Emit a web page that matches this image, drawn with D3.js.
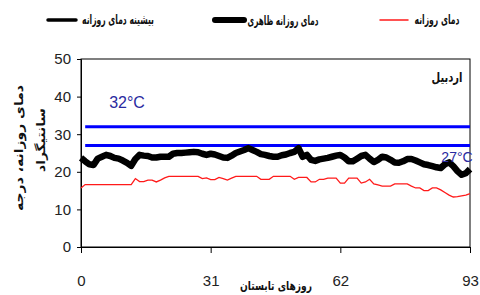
<!DOCTYPE html>
<html>
<head>
<meta charset="utf-8">
<script src="https://cdn.jsdelivr.net/npm/d3@7"></script>
<style>
html,body{margin:0;padding:0;background:#fff;}
svg{display:block;}
.num{font-family:"Liberation Sans","Arial",sans-serif;}
.ar{font-family:"DejaVu Sans",sans-serif;font-weight:bold;}
</style>
</head>
<body>
<svg id="c" width="480" height="295"></svg>
<script>
const days = d3.range(0, 94);
const apparentTemp = [23.7,22.8,22,21.8,23.5,24,24.5,24.2,23.7,23.5,23,22.4,21.6,23.4,24.5,24.3,24.2,23.8,23.8,24,24,24,24.8,25,25,25.1,25.2,25.3,25.2,24.8,24.5,24.8,24.6,24.2,23.8,23.7,24.3,25,25.4,25.8,26.3,25.8,25.3,24.7,24.5,24.2,24,24,24.4,24.6,25,25.3,26.3,24,24.5,23.2,22.9,23.3,23.5,23.7,24,24.3,24.5,23.8,22.8,22.8,23.5,24.2,24.5,23.5,22.6,23.2,24,23.8,23.2,22.5,22.4,22.8,23.4,23.4,23,22.5,22,21.8,21.5,21.2,21,22,22.5,21.5,20.2,19.2,19.6,20.7];
const dailyTemp = [15.7,16.6,16.6,16.6,16.6,16.6,16.6,16.6,16.6,16.6,16.6,16.6,16.6,18.2,17.4,17.4,17.8,17.8,17.3,17.8,18.4,18.8,18.8,18.8,18.8,18.8,18.8,18.8,18.8,18.2,18.4,17.9,17.9,18.5,18.2,17.8,18.3,18.8,18.8,18.8,18.8,18.8,18.8,18,18,18,18.8,18.8,18.8,18.8,18.8,18,18.5,18.5,18.5,17.3,17.3,18,18,18.3,18.3,18.3,17,17,18.3,18.3,18.3,17,17.3,18,16.8,16.5,16.2,16.2,16.2,16.8,16.8,16.8,16.8,16.2,15.7,15.7,15,15,15.7,15.7,15.2,14.5,13.8,13.3,13.4,13.6,13.8,14.2];
const thresholds = [32, 27];
const thresholdLabels = ["32°C", "27°C"];
const xTicks = [0, 31, 62, 93];
const yTicks = [0, 10, 20, 30, 40, 50];
const legendLabels = ["بیشینه دمای روزانه", "دمای روزانه ظاهری", "دمای روزانه"];
const stationName = "اردبیل";
const xTitle = "روزهای تابستان";
const yTitle = ["دمای روزانه، درجه", "سانتیگراد"];

const svg = d3.select("#c");
const L = 81, R = 470, T = 59, B = 247;
const x = d3.scaleLinear().domain([0, 93]).range([L, R]);
const y = d3.scaleLinear().domain([0, 50]).range([B, T]);

// place a centred Arabic text and squeeze it horizontally to a target width
function fitText(txt, cx, cy, target, size, rot) {
  const t = svg.append("text").attr("class", "ar").attr("text-anchor", "middle")
    .attr("dominant-baseline", "central").attr("font-size", size).attr("fill", "#111").text(txt);
  const w = t.node().getComputedTextLength() || target;
  const s = target / w;
  t.attr("transform", `translate(${cx},${cy})` + (rot ? ` rotate(${rot})` : "") + ` scale(${s},1)`);
  return t;
}

// frame
svg.append("rect").attr("x", L).attr("y", T).attr("width", R - L).attr("height", B - T)
  .attr("fill", "none").attr("stroke", "#000").attr("stroke-width", 1);

// axes
const yAxis = svg.append("g").attr("transform", `translate(${L},0)`)
  .call(d3.axisLeft(y).tickValues(yTicks).tickSize(4).tickPadding(6));
const xAxis = svg.append("g").attr("transform", `translate(0,${B})`)
  .call(d3.axisBottom(x).tickValues(xTicks).tickSize(6).tickPadding(22));
[yAxis, xAxis].forEach(g => {
  g.select(".domain").attr("stroke", "#000");
  g.selectAll(".tick line").attr("stroke", "#000");
  g.selectAll(".tick text").attr("class", "num").attr("font-size", 15).attr("fill", "#222");
});

// threshold lines
svg.selectAll(".thr").data(thresholds).enter().append("line")
  .attr("x1", x(1)).attr("x2", x(93))
  .attr("y1", d => y(d)).attr("y2", d => y(d))
  .attr("stroke", "#0000ff").attr("stroke-width", 3);

// series
const line = d3.line().x((d, i) => x(days[i])).y(d => y(d));
svg.append("path").datum(dailyTemp).attr("d", line)
  .attr("fill", "none").attr("stroke", "#ff1a1a").attr("stroke-width", 1.3);
svg.append("path").datum(apparentTemp).attr("d", line)
  .attr("fill", "none").attr("stroke", "#000").attr("stroke-width", 6.5).attr("stroke-linejoin", "round");

// threshold labels
svg.append("text").attr("class", "num").attr("x", 127).attr("y", 108)
  .attr("text-anchor", "middle").attr("font-size", 16).attr("fill", "#2a2aa0").text(thresholdLabels[0]);
svg.append("text").attr("class", "num").attr("x", 457).attr("y", 162)
  .attr("text-anchor", "middle").attr("font-size", 14).attr("fill", "#2a2aa0").text(thresholdLabels[1]);

// station name
fitText(stationName, 447, 77, 31, 13.5);

// axis titles
fitText(xTitle, 276, 286, 72, 12.5);
fitText(yTitle[0], 19, 148, 126, 12, -90);
fitText(yTitle[1], 41, 140, 64, 12, -90);

// legend
const legend = [
  {x1: 48, x2: 76, tc: 118, tw: 72, w: 3.5, c: "#000"},
  {x1: 215, x2: 244, tc: 283, tw: 71, w: 6, c: "#000"},
  {x1: 380, x2: 408, tc: 437, tw: 45, w: 1.5, c: "#ff1a1a"}
];
legend.forEach((d, i) => {
  svg.append("line").attr("x1", d.x1).attr("x2", d.x2).attr("y1", 20).attr("y2", 20)
    .attr("stroke", d.c).attr("stroke-width", d.w).attr("stroke-linecap", "round");
  fitText(legendLabels[i], d.tc, 20, d.tw, 13);
});
</script>
</body>
</html>
